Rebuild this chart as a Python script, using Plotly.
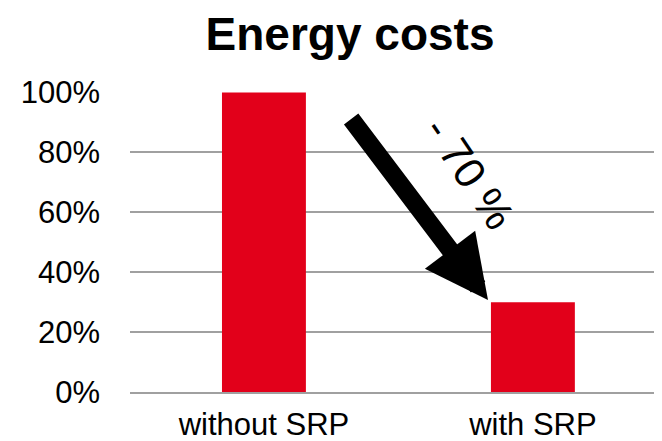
import plotly.graph_objects as go

categories = ["without SRP", "with SRP"]
values = [1.00, 0.30]
tick_vals = [0, 0.2, 0.4, 0.6, 0.8, 1.0]
tick_text = ["0%", "20%", "40%", "60%", "80%", "100%"]
title_text = "Energy costs"
change_label = "- 70 %"

FONT = "Arial, Liberation Sans, sans-serif"
RED = "#e2001a"
GRID = "#a0a0a0"

fig = go.Figure(go.Bar(x=[0, 1], y=values, marker=dict(color=RED, line=dict(width=0)),
                       hoverinfo="skip"))

fig.update_layout(
    width=654, height=433,
    margin=dict(l=122, r=0, t=84, b=49, autoexpand=False),
    paper_bgcolor="white", plot_bgcolor="white",
    bargap=0.688,
    showlegend=False,
    title=dict(text=f"<b>{title_text}</b>", x=0.523, xanchor="center", y=0.94, yanchor="middle",
               font=dict(family=FONT, size=46, color="black")),
    font=dict(family=FONT, color="black"),
)
fig.update_xaxes(
    tickmode="array", tickvals=[0, 1], ticktext=categories,
    range=[-0.498, 1.48], showgrid=False, zeroline=False,
    showline=True, linecolor=GRID, linewidth=1.5,
    tickfont=dict(family=FONT, size=31, color="black"),
    ticks="", ticklabelstandoff=4, automargin=False,
)
fig.update_yaxes(
    range=[0, 1.002], tickvals=tick_vals, ticktext=tick_text,
    showgrid=True, gridcolor=GRID, gridwidth=1.5, zeroline=False,
    tickfont=dict(family=FONT, size=31, color="black"),
    ticks="", ticklabelstandoff=29, automargin=False,
)

fig.add_annotation(
    x=0.833, y=0.307, xref="x", yref="y",
    ax=0.32, ay=0.917, axref="x", ayref="y",
    showarrow=True, arrowhead=2, arrowsize=0.7, arrowwidth=18, arrowcolor="black",
    text="", standoff=0,
)
fig.add_annotation(
    x=0.766, y=0.733, xref="x", yref="y",
    text=change_label, showarrow=False, textangle=56,
    font=dict(family=FONT, size=43, color="black"),
)

fig.write_html("out.html")
